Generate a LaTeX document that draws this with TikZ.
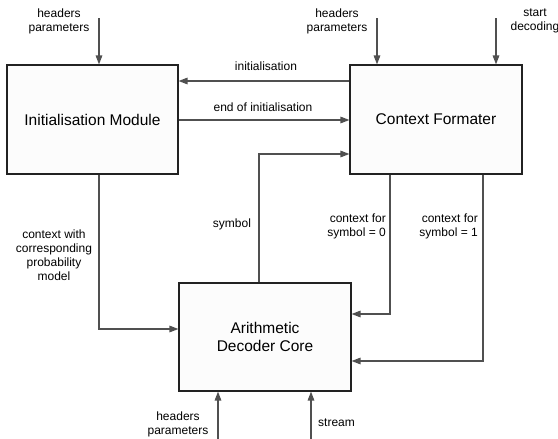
\documentclass[tikz,border=0pt]{standalone}
\usepackage{fontspec}
\setmainfont{Liberation Sans}
\usetikzlibrary{arrows.meta}
\definecolor{boxline}{HTML}{222222}
\definecolor{conline}{HTML}{505050}
\definecolor{boxfill}{HTML}{FCFCFC}
\tikzset{
  blockbox/.style={draw=boxline, line width=1.1pt, fill=boxfill, rectangle, inner sep=0pt,
    font=\fontsize{15.5}{18}\selectfont, align=center},
  arr/.style={draw=conline, line width=1.4pt, -{Triangle[length=9pt,width=6.5pt]}},
  lbl/.style={font=\fontsize{12}{14}\selectfont, inner sep=0pt, text=black}
}
\begin{document}
\begin{tikzpicture}[x=1pt,y=-1pt]
\useasboundingbox (0,0) rectangle (558,439);
\node[blockbox, minimum width=171pt, minimum height=109pt] (IM) at (92.5,119.5) {Initialisation Module};
\node[blockbox, minimum width=172pt, minimum height=109pt] (CF) at (436,119.5) {Context Formater};
\node[blockbox, minimum width=172pt, minimum height=108pt] (AD) at (265,337) {Arithmetic\\Decoder Core};

\coordinate (hp1) at (99,18);
\coordinate (hp2) at (377,18);
\coordinate (sd) at (496,18);
\coordinate (ini) at (350,81);
\coordinate (eoi) at (178,120);
\coordinate (sy) at (259,154);
\coordinate (cw) at (99,329);
\coordinate (c0) at (390,314);
\coordinate (c1) at (483,361);
\coordinate (hp3) at (218,439);
\coordinate (st) at (311,439);

\draw[arr] (hp1) -- (hp1 |- IM.north);
\draw[arr] (hp2) -- (hp2 |- CF.north);
\draw[arr] (sd) -- (sd |- CF.north);
\draw[arr] (ini -| CF.west) -- (ini -| IM.east);
\draw[arr] (eoi -| IM.east) -- (eoi -| CF.west);
\draw[arr] (sy |- AD.north) -- (sy) -- (sy -| CF.west);
\draw[arr] (cw |- IM.south) -- (cw) -- (cw -| AD.west);
\draw[arr] (c0 |- CF.south) -- (c0) -- (c0 -| AD.east);
\draw[arr] (c1 |- CF.south) -- (c1) -- (c1 -| AD.east);
\draw[arr] (hp3) -- (hp3 |- AD.south);
\draw[arr] (st) -- (st |- AD.south);

\node[lbl, align=center] (Lhp1) at (59,21) {headers\\parameters};
\node[lbl, align=center] (Lhp2) at (337,21) {headers\\parameters};
\node[lbl, align=center] (Lsd) at (535,21) {start\\decoding};
\node[lbl] (Lini) at (266,66) {initialisation};
\node[lbl] (Leoi) at (263,107) {end of initialisation};
\node[lbl] (Lsy) at (232,224) {symbol};
\node[lbl, align=center] (Lcw) at (54,255) {context with\\corresponding\\probability\\model};
\node[lbl, align=right, anchor=east] (Lc0) at (386,226) {context for\\symbol = 0};
\node[lbl, align=right, anchor=east] (Lc1) at (478,226) {context for\\symbol = 1};
\node[lbl, align=center] (Lhp3) at (178,424) {headers\\parameters};
\node[lbl, anchor=west] (Lst) at (318,423) {stream};
\end{tikzpicture}
\end{document}
